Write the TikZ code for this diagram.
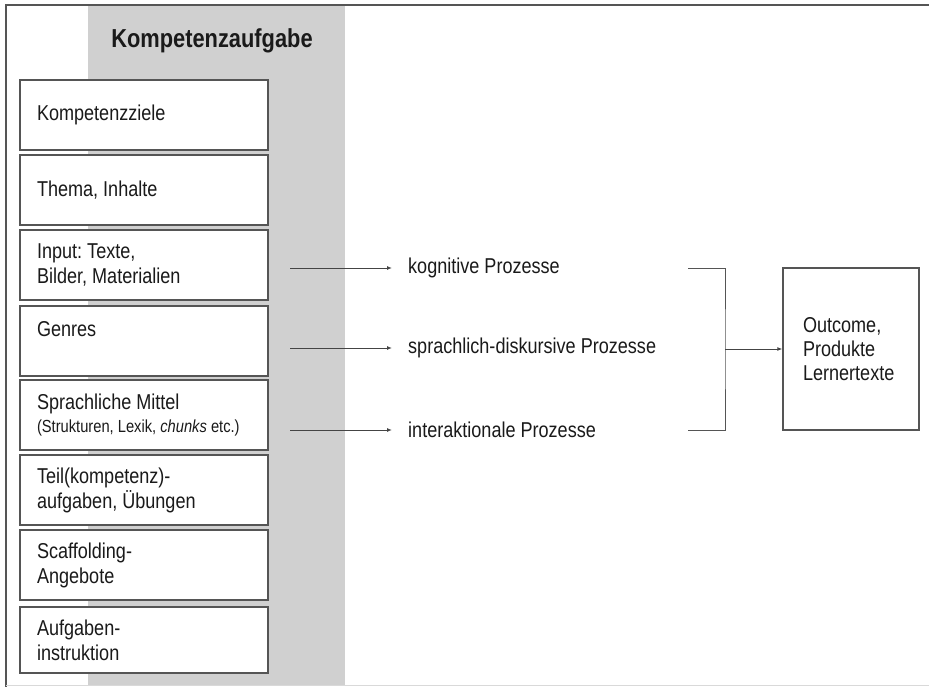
\documentclass[tikz,border=0pt]{standalone}
\usepackage{fontspec}
\setmainfont[FakeStretch=0.84]{Liberation Sans}
\usepackage{tikz}
\usetikzlibrary{arrows.meta}
\frenchspacing

\definecolor{panelgray}{HTML}{D0D0D0}
\definecolor{linegray}{HTML}{555555}
\definecolor{textgray}{HTML}{1A1A1A}

\tikzset{
	kbox/.style={draw=linegray, line width=1.3pt, fill=white, minimum width=248pt,
		minimum height=70pt, text width=214pt, inner xsep=17pt, align=flush left,
		font=\fontsize{21.5}{25}\selectfont, text=textgray},
	prozess/.style={anchor=west, inner xsep=16pt, font=\fontsize{21.5}{25}\selectfont, text=textgray},
	pfeil/.style={draw=linegray!80!black, line width=1pt, -{Latex[length=5pt,width=4pt]}}
}

\begin{document}
\begin{tikzpicture}[x=1pt, y=-1pt]
	\useasboundingbox (0, 0) rectangle (929, 687);
	\fill[panelgray] (88, 5) rectangle (345, 685);
	\draw[linegray, line width=1.2pt] (929, 5) -- (6, 5) -- (6, 687);
	\draw[black!15, line width=0.8pt] (6, 685) -- (929, 685);

	\node[font=\bfseries\fontsize{26}{30}\selectfont, text=textgray] (titel) at (212, 41) {Kompetenzaufgabe};

	\node[kbox] (ziele) at (144, 115) {Kompetenzziele};
	\node[kbox] (thema) at (144, 190) {Thema, Inhalte};
	\node[kbox] (input) at (144, 265) {Input: Texte,\\ Bilder, Materialien};
	\node[kbox] (genres) at (144, 341) {Genres\\ \mbox{}};
	\node[kbox] (mittel) at (144, 415) {Sprachliche Mittel\\[-2pt] \mbox{\fontsize{17.5}{20}\selectfont(Strukturen, Lexik, \textit{chunks} etc.)}};
	\node[kbox] (teil) at (144, 490) {Teil(kompetenz)-\\ aufgaben, Übungen};
	\node[kbox] (scaff) at (144, 565) {Scaffolding-\\ Angebote};
	\node[kbox, minimum height=66pt] (instr) at (144, 640) {Aufgaben-\\ instruktion};

	\node[prozess] (kog) at (392, 268) {kognitive Prozesse};
	\node[prozess] (sprach) at (392, 348) {sprachlich-diskursive Prozesse};
	\node[prozess] (inter) at (392, 430) {interaktionale Prozesse};

	\coordinate (a1) at (290, 268);
	\coordinate (a2) at (290, 348);
	\coordinate (a3) at (290, 430);
	\draw[pfeil] (a1) -- (kog.west);
	\draw[pfeil] (a2) -- (sprach.west);
	\draw[pfeil] (a3) -- (inter.west);

	\node[kbox, minimum width=136pt, minimum height=162pt, text width=96pt, inner xsep=20pt,
		font=\fontsize{21.5}{24}\selectfont] (outcome) at (851, 349) {Outcome,\\ Produkte\\ Lernertexte};

	% Klammer
	\coordinate (kt) at (688, 268);
	\coordinate (kb) at (688, 430);
	\coordinate (km) at (725, 349);
	\draw[linegray, line width=1pt] (kt) -| (km) |- (kb);
	\draw[pfeil] (km) -- (outcome.west);
\end{tikzpicture}
\end{document}
